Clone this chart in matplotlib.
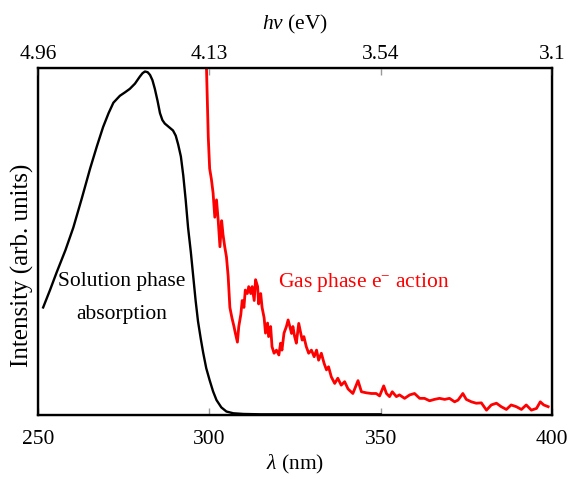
import matplotlib.pyplot as plt

plt.rcParams["font.family"] = ["Liberation Serif", "DejaVu Serif"]
plt.rcParams["mathtext.fontset"] = "custom"
plt.rcParams["mathtext.rm"] = "Liberation Serif"
plt.rcParams["mathtext.it"] = "Liberation Serif:italic"

# solution phase absorption (black)
sol_nm = [251.5, 253.5, 255.4, 258.0, 260.3, 262.8, 265.2, 267.2, 269.0, 270.6, 272.0, 273.9,
          275.4, 276.8, 278.3, 279.7, 280.5, 281.2, 282.0, 282.7, 283.4, 284.1, 284.9, 285.6,
          286.3, 287.0, 288.2, 289.4, 290.2, 290.9, 291.7, 292.4, 293.1, 293.8, 294.6, 295.3,
          296.0, 296.7, 297.5, 298.2, 299.1, 300.1, 301.1, 302.1, 303.5, 305.0, 307.0, 310.0,
          315.0, 325.0, 335.0, 350.0]
sol_I = [0.31, 0.36, 0.41, 0.475, 0.54, 0.625, 0.71, 0.775, 0.83, 0.87, 0.90, 0.92,
         0.93, 0.94, 0.955, 0.975, 0.985, 0.99, 0.988, 0.98, 0.965, 0.94, 0.905, 0.87,
         0.85, 0.84, 0.83, 0.82, 0.805, 0.78, 0.745, 0.69, 0.62, 0.54, 0.47, 0.40,
         0.33, 0.27, 0.22, 0.18, 0.135, 0.10, 0.068, 0.043, 0.022, 0.01, 0.005, 0.003,
         0.002, 0.002, 0.002, 0.002]

# gas phase electron action spectrum (red)
gas_nm = [299.0, 299.2, 299.7, 300.1, 300.6, 301.1, 301.6, 302.1, 302.6, 303.1, 303.6, 304.0,
          304.5, 305.0, 305.5, 306.0, 306.6, 307.2, 307.6, 308.2, 308.6, 309.2, 309.6, 310.1,
          310.5, 311.1, 311.5, 312.1, 312.5, 313.1, 313.5, 314.1, 314.4, 315.0, 315.4, 316.0,
          316.4, 317.0, 317.3, 317.9, 318.3, 318.9, 319.6, 320.3, 320.8, 321.2, 321.8, 322.5,
          323.0, 323.5, 324.0, 324.4, 324.9, 325.4, 326.1, 326.7, 327.1, 327.6, 328.3, 329.0,
          329.8, 330.6, 331.3, 331.9, 332.7, 333.5, 334.2, 334.8, 335.6, 336.6, 337.5, 338.5,
          339.5, 340.5, 341.9, 343.4, 344.4, 345.8, 347.3, 348.7, 349.7, 350.9, 351.7, 352.6,
          353.4, 354.6, 355.5, 357.0, 358.5, 359.9, 361.4, 362.8, 364.3, 365.7, 367.2, 368.7,
          370.1, 371.6, 372.6, 374.0, 375.0, 376.5, 377.9, 379.4, 380.9, 382.3, 383.8, 385.2,
          386.7, 388.1, 389.6, 391.1, 392.5, 394.0, 395.5, 396.6, 397.6, 398.9]
gas_I = [1.05, 0.99, 0.80, 0.71, 0.68, 0.64, 0.57, 0.62, 0.56, 0.485, 0.56, 0.52,
         0.485, 0.456, 0.40, 0.31, 0.28, 0.255, 0.236, 0.21, 0.255, 0.29, 0.33, 0.31,
         0.36, 0.35, 0.37, 0.35, 0.37, 0.33, 0.39, 0.37, 0.32, 0.35, 0.31, 0.28,
         0.236, 0.265, 0.226, 0.255, 0.197, 0.178, 0.187, 0.173, 0.207, 0.187, 0.236, 0.255,
         0.274, 0.255, 0.235, 0.255, 0.226, 0.207, 0.264, 0.235, 0.216, 0.226, 0.197, 0.178,
         0.187, 0.168, 0.187, 0.158, 0.178, 0.149, 0.13, 0.139, 0.11, 0.091, 0.106, 0.086,
         0.096, 0.075, 0.062, 0.099, 0.067, 0.064, 0.062, 0.062, 0.055, 0.084, 0.062, 0.053,
         0.067, 0.053, 0.058, 0.048, 0.058, 0.062, 0.048, 0.048, 0.041, 0.045, 0.048, 0.045,
         0.048, 0.038, 0.043, 0.062, 0.045, 0.038, 0.034, 0.035, 0.014, 0.029, 0.034, 0.024,
         0.016, 0.029, 0.024, 0.016, 0.029, 0.014, 0.019, 0.038, 0.029, 0.024]

nm_ticks = [250, 300, 350, 400]
ev_labels = ["4.96", "4.13", "3.54", "3.1"]

fs = 15.5
fig = plt.figure(figsize=(5.69, 4.79), dpi=100)
ax = fig.add_axes([0.0668, 0.1336, 0.9032, 0.7244])

ax.plot(sol_nm, sol_I, color="black", lw=1.7)
ax.plot(gas_nm, gas_I, color="red", lw=2.0)

ax.set_xlim(250, 400)
ax.set_ylim(0, 1)
ax.set_yticks([])
ax.set_xticks(nm_ticks)
ax.tick_params(axis="x", direction="in", length=5, width=1, color="#999999",
               labelsize=fs, pad=11)
ax.set_xlabel(r"$\lambda$ (nm)", fontsize=fs, labelpad=3)
ax.set_ylabel("Intensity (arb. units)", fontsize=18)
ax.yaxis.set_label_coords(-0.008, 0.43)
for s in ax.spines.values():
    s.set_linewidth(1.7)

top = ax.twiny()
top.set_xlim(250, 400)
top.set_xticks(nm_ticks)
top.set_xticklabels(ev_labels)
top.tick_params(axis="x", direction="in", length=5, width=1, color="#999999",
                labelsize=fs, pad=3)
top.set_xlabel(r"$hv$ (eV)", fontsize=fs, labelpad=11)

ax.text(274.5, 0.337, "Solution phase\nabsorption", fontsize=fs, ha="center",
        va="center", linespacing=2.0)
ax.text(320.0, 0.383, "Gas phase e$^{-}$ action", fontsize=fs, color="red",
        ha="left", va="center")

fig.savefig("out.png", dpi=100)
